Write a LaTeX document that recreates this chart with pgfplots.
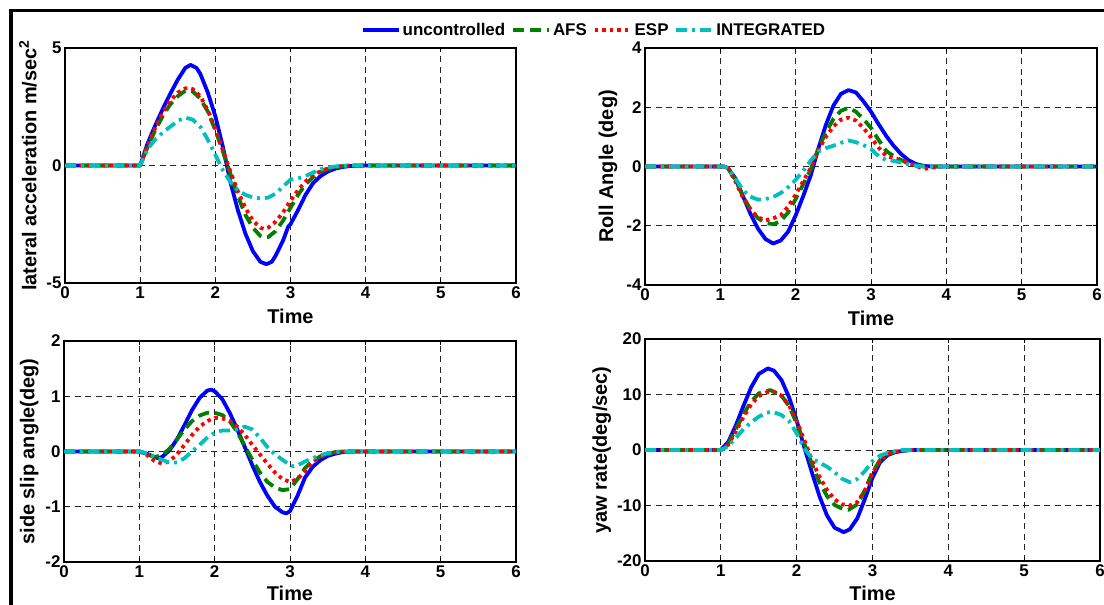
\documentclass[border=0pt]{standalone}
\usepackage{fontspec}
\setmainfont{Liberation Sans}
\usepackage{pgfplots}
\pgfplotsset{compat=1.18}
\definecolor{cblue}{RGB}{0,0,255}
\definecolor{cgreen}{RGB}{0,128,0}
\definecolor{cred}{RGB}{255,0,0}
\definecolor{ccyan}{RGB}{0,191,191}
\pgfplotsset{
  myax/.style={scale only axis, xmin=0, xmax=6, xtick={0,...,6},
    grid=major, grid style={black!85, dash pattern=on 6bp off 4.5bp, line width=0.8bp},
    axis line style={line width=1.2bp}, tick align=inside, major tick length=4bp,
    tick style={black, line width=0.8bp},
    ticklabel style={font=\fontsize{17}{17}\selectfont\bfseries},
    label style={font=\fontsize{20}{20}\selectfont\bfseries},
    xlabel=Time,
    /pgf/number format/assume math mode=true,
    every axis plot/.append style={line join=round},
  },
  s1/.style={color=cblue, line width=3.8bp, solid},
  s2/.style={color=cgreen, line width=3.8bp, dash pattern=on 11bp off 6bp},
  s3/.style={color=cred, line width=3.8bp, dash pattern=on 3.5bp off 4bp},
  s4/.style={color=ccyan, line width=3.8bp, dash pattern=on 11bp off 5bp on 3bp off 5bp},
}
\begin{document}
\begin{tikzpicture}
\path[use as bounding box] (0bp,0bp) rectangle (1104bp,605bp);

% Axis 1: lateral acceleration
\begin{axis}[myax, at={(65bp,322bp)}, anchor=south west, width=451bp, height=235bp,
  ymin=-5, ymax=5, ytick={-5,0,5},
  ylabel={lateral acceleration m/sec\textsuperscript{2}},
  ylabel style={at={(axis description cs:-0.082,0.5)}, anchor=center},
  xlabel style={at={(axis description cs:0.5,-0.14)}, anchor=center},
  legend style={at={(axis description cs:1.173,1.077)}, anchor=center, draw=none, fill=none,
    font=\fontsize{17}{17}\selectfont\bfseries,
    /tikz/every even column/.append style={column sep=4bp}},
  legend columns=4,
  legend image code/.code={\draw[#1] (0bp,0bp) -- (36bp,0bp);},
]
\addplot[s1] coordinates {(0,0)(1,0)(1.1,0.95)(1.2,1.7)(1.3,2.4)(1.4,3.05)(1.5,3.65)(1.6,4.15)(1.67,4.28)(1.75,4.15)(1.8,3.9)(1.9,3.1)(2.0,2.1)(2.1,0.8)(2.15,0.05)(2.2,-0.7)(2.3,-1.9)(2.4,-2.9)(2.5,-3.65)(2.6,-4.1)(2.68,-4.2)(2.75,-4.1)(2.8,-3.85)(2.9,-3.2)(2.97,-2.6)(3.0,-2.5)(3.1,-1.9)(3.2,-1.25)(3.3,-0.75)(3.4,-0.45)(3.5,-0.25)(3.6,-0.13)(3.7,-0.06)(3.8,-0.02)(4,0)(6,0)};
\addlegendentry{uncontrolled}
\addplot[s2] coordinates {(0,0)(1,0)(1.1,0.8)(1.2,1.5)(1.3,2.1)(1.4,2.6)(1.5,2.95)(1.6,3.18)(1.65,3.2)(1.7,3.15)(1.8,2.85)(1.9,2.3)(2.0,1.5)(2.1,0.6)(2.2,-0.35)(2.3,-1.3)(2.4,-2.1)(2.5,-2.65)(2.6,-3.0)(2.65,-3.08)(2.7,-3.05)(2.8,-2.8)(2.9,-2.35)(3.0,-1.8)(3.1,-1.25)(3.2,-0.8)(3.3,-0.5)(3.4,-0.28)(3.5,-0.15)(3.6,-0.07)(3.7,-0.03)(3.8,0)(6,0)};
\addlegendentry{AFS}
\addplot[s3] coordinates {(0,0)(1,0)(1.1,0.85)(1.2,1.6)(1.3,2.25)(1.4,2.75)(1.5,3.1)(1.6,3.28)(1.65,3.3)(1.7,3.25)(1.8,2.95)(1.9,2.35)(2.0,1.55)(2.1,0.65)(2.2,-0.25)(2.3,-1.1)(2.4,-1.8)(2.5,-2.35)(2.6,-2.65)(2.65,-2.7)(2.7,-2.65)(2.8,-2.4)(2.9,-2.0)(3.0,-1.5)(3.1,-1.05)(3.2,-0.68)(3.3,-0.42)(3.4,-0.24)(3.5,-0.12)(3.6,-0.05)(3.7,-0.02)(3.8,0)(6,0)};
\addlegendentry{ESP}
\addplot[s4] coordinates {(0,0)(1,0)(1.1,0.7)(1.2,1.1)(1.3,1.4)(1.4,1.65)(1.5,1.9)(1.6,2.04)(1.7,1.95)(1.8,1.65)(1.9,1.1)(2.0,0.45)(2.1,-0.2)(2.2,-0.7)(2.3,-1.05)(2.4,-1.25)(2.5,-1.36)(2.6,-1.4)(2.7,-1.37)(2.8,-1.2)(2.9,-0.9)(3.0,-0.6)(3.1,-0.55)(3.2,-0.45)(3.3,-0.3)(3.4,-0.16)(3.5,-0.08)(3.6,-0.04)(3.7,-0.01)(3.8,0)(6,0)};
\addlegendentry{INTEGRATED}
\end{axis}

% Axis 2: roll angle
\begin{axis}[myax, at={(645bp,320bp)}, anchor=south west, width=452bp, height=237bp,
  ymin=-4, ymax=4, ytick={-4,-2,0,2,4},
  ylabel={Roll Angle (deg)},
  ylabel style={at={(axis description cs:-0.082,0.5)}, anchor=center},
  xlabel style={at={(axis description cs:0.5,-0.139)}, anchor=center},
]
\addplot[s1] coordinates {(0,0)(1.05,0)(1.1,-0.05)(1.2,-0.4)(1.3,-1.0)(1.4,-1.6)(1.5,-2.1)(1.6,-2.45)(1.7,-2.6)(1.8,-2.5)(1.9,-2.2)(2.0,-1.65)(2.1,-1.0)(2.2,-0.3)(2.3,0.6)(2.4,1.4)(2.5,2.05)(2.6,2.45)(2.7,2.58)(2.8,2.5)(2.9,2.2)(3.0,1.85)(3.1,1.43)(3.2,1.04)(3.3,0.7)(3.4,0.42)(3.5,0.21)(3.6,0.08)(3.7,0.02)(3.8,0)(6,0)};
\addplot[s2] coordinates {(0,0)(1.05,0)(1.1,-0.05)(1.2,-0.45)(1.3,-1.0)(1.4,-1.45)(1.5,-1.75)(1.6,-1.9)(1.7,-1.95)(1.8,-1.85)(1.9,-1.55)(2.0,-1.1)(2.1,-0.6)(2.2,-0.1)(2.3,0.6)(2.4,1.15)(2.5,1.6)(2.6,1.88)(2.7,1.98)(2.8,1.85)(2.9,1.6)(3.0,1.3)(3.1,0.9)(3.2,0.53)(3.3,0.35)(3.4,0.22)(3.5,0.1)(3.6,0.03)(3.7,0)(6,0)};
\addplot[s3] coordinates {(0,0)(1.05,0)(1.1,-0.05)(1.2,-0.5)(1.3,-1.05)(1.4,-1.45)(1.5,-1.72)(1.6,-1.82)(1.7,-1.75)(1.8,-1.65)(1.9,-1.35)(2.0,-0.95)(2.1,-0.5)(2.2,-0.05)(2.3,0.55)(2.4,1.0)(2.5,1.35)(2.6,1.58)(2.7,1.65)(2.8,1.55)(2.9,1.3)(3.0,0.98)(3.1,0.64)(3.2,0.36)(3.3,0.28)(3.4,0.22)(3.5,0.12)(3.6,0.02)(3.7,-0.08)(3.8,-0.05)(3.9,0)(6,0)};
\addplot[s4] coordinates {(0,0)(1.05,0)(1.1,-0.05)(1.2,-0.4)(1.3,-0.8)(1.4,-1.02)(1.5,-1.12)(1.6,-1.1)(1.7,-1.03)(1.8,-0.9)(1.9,-0.7)(2.0,-0.45)(2.1,-0.15)(2.2,0.2)(2.3,0.5)(2.4,0.62)(2.5,0.7)(2.6,0.8)(2.7,0.88)(2.8,0.82)(2.9,0.72)(3.0,0.59)(3.1,0.35)(3.2,0.22)(3.3,0.19)(3.4,0.13)(3.5,0.07)(3.6,0.03)(3.7,0)(6,0)};
\end{axis}

% Axis 3: side slip angle
\begin{axis}[myax, at={(64bp,43bp)}, anchor=south west, width=452bp, height=221bp,
  ymin=-2, ymax=2, ytick={-2,-1,0,1,2},
  ylabel={side slip angle(deg)},
  ylabel style={at={(axis description cs:-0.077,0.5)}, anchor=center},
  xlabel style={at={(axis description cs:0.5,-0.144)}, anchor=center},
]
\addplot[s1] coordinates {(0,0)(1,0)(1.1,-0.04)(1.2,-0.1)(1.25,-0.12)(1.3,-0.1)(1.4,0.02)(1.5,0.22)(1.6,0.48)(1.7,0.75)(1.8,0.97)(1.9,1.1)(1.95,1.12)(2.0,1.09)(2.1,0.95)(2.2,0.7)(2.3,0.4)(2.4,0.08)(2.5,-0.25)(2.6,-0.55)(2.7,-0.8)(2.8,-1.0)(2.9,-1.1)(2.95,-1.12)(3.0,-1.08)(3.1,-0.8)(3.2,-0.47)(3.3,-0.28)(3.4,-0.16)(3.5,-0.08)(3.6,-0.04)(3.7,-0.01)(3.8,0)(6,0)};
\addplot[s2] coordinates {(0,0)(1,0)(1.1,-0.05)(1.2,-0.1)(1.3,-0.07)(1.4,0.05)(1.5,0.22)(1.6,0.4)(1.7,0.55)(1.8,0.65)(1.9,0.7)(2.0,0.7)(2.1,0.66)(2.2,0.55)(2.3,0.35)(2.4,0.1)(2.5,-0.15)(2.6,-0.38)(2.7,-0.55)(2.8,-0.65)(2.9,-0.7)(3.0,-0.68)(3.1,-0.5)(3.2,-0.3)(3.3,-0.17)(3.4,-0.09)(3.5,-0.04)(3.6,-0.01)(3.7,0)(6,0)};
\addplot[s3] coordinates {(0,0)(1,0)(1.1,-0.06)(1.2,-0.17)(1.3,-0.22)(1.4,-0.18)(1.5,-0.05)(1.6,0.12)(1.7,0.3)(1.8,0.45)(1.9,0.55)(2.0,0.61)(2.1,0.6)(2.2,0.55)(2.3,0.45)(2.4,0.3)(2.5,0.12)(2.6,-0.05)(2.7,-0.22)(2.8,-0.38)(2.9,-0.5)(3.0,-0.55)(3.1,-0.5)(3.2,-0.35)(3.3,-0.2)(3.4,-0.1)(3.5,-0.05)(3.6,-0.02)(3.7,0)(6,0)};
\addplot[s4] coordinates {(0,0)(1,0)(1.1,-0.03)(1.2,-0.1)(1.3,-0.15)(1.4,-0.2)(1.5,-0.2)(1.6,-0.12)(1.7,0.0)(1.8,0.12)(1.9,0.25)(2.0,0.34)(2.1,0.38)(2.2,0.38)(2.3,0.4)(2.4,0.45)(2.5,0.4)(2.6,0.25)(2.7,0.08)(2.8,-0.05)(2.9,-0.15)(3.0,-0.25)(3.05,-0.27)(3.1,-0.25)(3.2,-0.18)(3.3,-0.12)(3.4,-0.07)(3.5,-0.03)(3.6,-0.01)(3.7,0)(6,0)};
\end{axis}

% Axis 4: yaw rate
\begin{axis}[myax, at={(645bp,44bp)}, anchor=south west, width=455bp, height=222bp,
  ymin=-20, ymax=20, ytick={-20,-10,0,10,20},
  ylabel={yaw rate(deg/sec)},
  ylabel style={at={(axis description cs:-0.095,0.5)}, anchor=center},
  xlabel style={at={(axis description cs:0.5,-0.144)}, anchor=center},
]
\addplot[s1] coordinates {(0,0)(1,0)(1.1,1.5)(1.2,4.5)(1.3,8.0)(1.4,11.3)(1.5,13.7)(1.62,14.7)(1.7,14.3)(1.8,12.6)(1.9,9.5)(2.0,5.3)(2.1,0.5)(2.2,-4.0)(2.3,-8.3)(2.4,-11.8)(2.5,-14.0)(2.62,-14.8)(2.7,-14.3)(2.8,-12.3)(2.9,-8.8)(3.0,-5.0)(3.1,-2.2)(3.2,-0.9)(3.3,-0.4)(3.4,-0.15)(3.5,0)(6,0)};
\addplot[s2] coordinates {(0,0)(1,0)(1.1,1.2)(1.2,3.8)(1.3,6.5)(1.4,8.7)(1.5,10.2)(1.65,10.8)(1.8,9.8)(1.9,7.9)(2.0,4.8)(2.1,1.2)(2.2,-2.5)(2.3,-5.8)(2.4,-8.3)(2.5,-9.9)(2.6,-10.6)(2.68,-10.8)(2.8,-9.8)(2.9,-7.2)(3.0,-4.0)(3.1,-1.8)(3.2,-0.7)(3.3,-0.3)(3.4,-0.1)(3.5,0)(6,0)};
\addplot[s3] coordinates {(0,0)(1,0)(1.1,1.0)(1.2,3.4)(1.3,6.0)(1.4,8.2)(1.5,9.7)(1.6,10.4)(1.7,10.5)(1.8,9.8)(1.9,8.0)(2.0,5.2)(2.1,1.8)(2.2,-1.8)(2.3,-4.8)(2.4,-7.2)(2.5,-8.9)(2.6,-9.8)(2.7,-10.0)(2.8,-9.4)(2.9,-7.3)(3.0,-4.2)(3.1,-1.8)(3.2,-0.7)(3.3,-0.3)(3.4,-0.1)(3.5,0)(6,0)};
\addplot[s4] coordinates {(0,0)(1,0)(1.1,0.7)(1.2,2.2)(1.3,3.8)(1.4,5.0)(1.5,6.0)(1.6,6.7)(1.68,6.9)(1.8,6.3)(1.9,5.2)(2.0,3.0)(2.1,0.3)(2.2,-1.5)(2.3,-2.3)(2.4,-3.0)(2.5,-4.0)(2.6,-5.2)(2.7,-5.8)(2.8,-5.2)(2.9,-3.8)(3.0,-2.0)(3.1,-1.0)(3.2,-0.5)(3.3,-0.2)(3.4,0)(6,0)};
\end{axis}

\draw[line width=3.8bp, line join=miter] (11bp,0bp) -- (11bp,594.5bp) -- (1104bp,594.5bp);
\end{tikzpicture}
\end{document}
